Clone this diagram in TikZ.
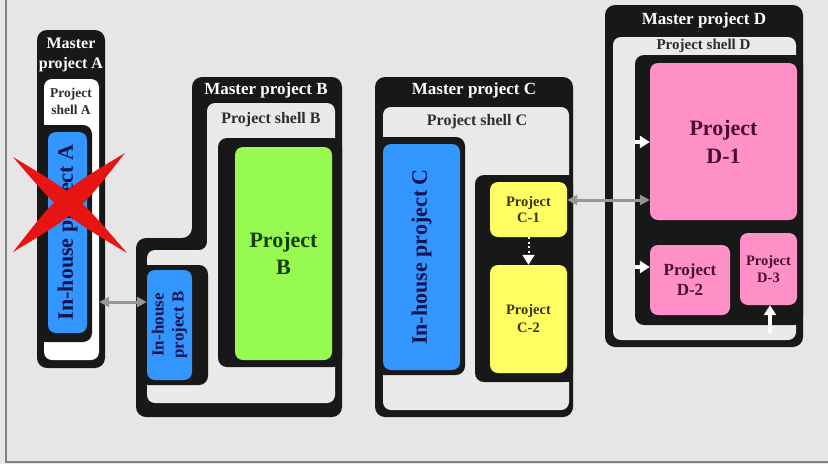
\documentclass[tikz,border=0pt]{standalone}
\usepackage{fontspec}
\setmainfont{Liberation Serif}
\usetikzlibrary{arrows.meta,calc}
\definecolor{bg}{RGB}{230,230,230}
\definecolor{shellc}{RGB}{234,234,234}
\definecolor{blk}{RGB}{24,24,24}
\definecolor{blu}{RGB}{51,150,255}
\definecolor{grn}{RGB}{150,250,80}
\definecolor{yel}{RGB}{255,255,100}
\definecolor{pnk}{RGB}{255,145,200}
\definecolor{navy}{RGB}{20,20,80}
\definecolor{dgreen}{RGB}{25,60,15}
\definecolor{olivetxt}{RGB}{55,55,15}
\definecolor{maroontxt}{RGB}{75,15,45}
\definecolor{shelltxt}{RGB}{45,45,45}
\definecolor{arrgray}{RGB}{150,150,150}
\definecolor{xred}{RGB}{232,20,20}
\tikzset{
  master/.style={fill=blk, rounded corners=10pt},
  shellbox/.style={fill=shellc, rounded corners=8pt},
  innerbox/.style={fill=blk, rounded corners=9pt},
  proj/.style={rounded corners=8pt, inner sep=0pt, align=center},
  mtitle/.style={text=white, align=center, font=\bfseries\fontsize{17}{20}\selectfont},
  stitle/.style={text=shelltxt, align=center, font=\bfseries\fontsize{16}{18}\selectfont},
  garrow/.style={arrgray, line width=3pt, {Triangle[length=10pt,width=10pt]}-{Triangle[length=10pt,width=10pt]}},
  warrow/.style={white, line width=3.5pt, -{Triangle[length=10pt,width=12pt]}},
}
\begin{document}
\begin{tikzpicture}[x=1pt,y=-1pt]
\useasboundingbox (0,0) rectangle (828,464);
\fill[bg] (0,0) rectangle (828,464);
\draw[gray, line width=1.5pt] (6,0) -- (6,462) -- (828,462);

% ---------- Master A ----------
\fill[master] (37,30) rectangle (105,368);
\node[fill=white, rounded corners=8pt, inner sep=0pt, minimum width=55pt, minimum height=281pt] (shellA) at (71.5,219.5) {};
\fill[innerbox] (37,125) rectangle (92,342);
\fill[blk] (37,125) rectangle (60,342);
\node[proj, fill=blu, minimum width=39pt, minimum height=201pt, text=navy,
  font=\bfseries\fontsize{22}{24}\selectfont] (inA) at (67.5,232.5) {\rotatebox{90}{In-house project A}};
\node[mtitle, font=\bfseries\fontsize{16}{20}\selectfont] (tA) at (71,55) {Master\\project A};
\node[stitle, font=\bfseries\fontsize{13.5}{17}\selectfont] (sA) at (71,101) {Project\\shell A};

% ---------- Master B ----------
\fill[master] (192,77) -- (342,77) -- (342,417) -- (136,417) -- (136,238) -- (192,238) -- cycle;
\fill[shellbox] (207,103) -- (335,103) -- (335,403) -- (147,403) -- (147,250) -- (207,250) -- cycle;
\fill[innerbox] (218,138) rectangle (342,367);
\fill[blk] (300,138) rectangle (342,367);
\fill[innerbox] (136,265) rectangle (208,385);
\fill[blk] (136,265) rectangle (160,385);
\node[proj, fill=grn, minimum width=97pt, minimum height=213pt, text=dgreen,
  font=\bfseries\fontsize{22}{27}\selectfont] (pB) at (283.5,253.5) {Project\\B};
\node[proj, fill=blu, minimum width=45pt, minimum height=110pt, text=navy,
  font=\bfseries\fontsize{17}{21}\selectfont] (inB) at (169.5,325) {\rotatebox{90}{\begin{tabular}{@{}c@{}}In-house\\[-1pt]project B\end{tabular}}};
\node[mtitle] (tB) at (266,90) {Master project B};
\node[stitle] (sB) at (271,120) {Project shell B};

% ---------- Master C ----------
\fill[master] (375,77) rectangle (573,417);
\fill[shellbox] (383,107) rectangle (569,410);
\fill[innerbox] (375,137) rectangle (465,375);
\fill[blk] (375,137) rectangle (400,375);
\fill[innerbox] (475,175) rectangle (573,382);
\fill[blk] (540,175) rectangle (573,382);
\node[proj, fill=blu, minimum width=77pt, minimum height=226pt, text=navy,
  font=\bfseries\fontsize{22}{24}\selectfont] (inC) at (421.5,257) {\rotatebox{90}{In-house project C}};
\node[proj, fill=yel, minimum width=77pt, minimum height=55pt, text=olivetxt,
  font=\bfseries\fontsize{14.5}{16.5}\selectfont] (C1) at (528.5,209.5) {Project\\C-1};
\node[proj, fill=yel, minimum width=77pt, minimum height=108pt, text=olivetxt,
  font=\bfseries\fontsize{14.5}{18}\selectfont] (C2) at (528.5,319) {Project\\C-2};
\node[mtitle] (tC) at (474,90) {Master project C};
\node[stitle] (sC) at (477,122) {Project shell C};

% ---------- Master D ----------
\fill[master] (605,5) rectangle (803,347);
\fill[shellbox] (613,37) rectangle (796,340);
\fill[innerbox] (635,55) rectangle (803,325);
\fill[blk] (700,55) rectangle (803,325);
\node[proj, fill=pnk, minimum width=147pt, minimum height=157pt, text=maroontxt,
  font=\bfseries\fontsize{22}{28}\selectfont] (D1) at (723.5,141.5) {Project\\D-1};
\node[proj, fill=pnk, minimum width=80pt, minimum height=70pt, text=maroontxt,
  font=\bfseries\fontsize{17}{20}\selectfont] (D2) at (690,280) {Project\\D-2};
\node[proj, fill=pnk, minimum width=57pt, minimum height=72pt, text=maroontxt,
  font=\bfseries\fontsize{14.5}{17}\selectfont] (D3) at (768.5,269) {Project\\D-3};
\node[mtitle] (tD) at (704,20) {Master project D};
\node[stitle, font=\bfseries\fontsize{15}{17}\selectfont] (sD) at (703.5,46) {Project shell D};

% ---------- connectors ----------
\coordinate (ab) at (120,302);
\draw[garrow] (shellA.east |- ab) -- (inB.west |- ab);
\coordinate (cd) at (600,200);
\draw[garrow] (C1.east |- cd) -- (D1.west |- cd);
\coordinate (w1) at (635,142);
\draw[warrow] (w1) -- (D1.west |- w1);
\coordinate (w2) at (635,267);
\draw[warrow] (w2) -- (D2.west |- w2);
\coordinate (w3) at (770,333);
\draw[warrow] (w3) -- (D3.south -| w3);
\draw[white, line width=2pt, dash pattern=on 2pt off 2.5pt,
  -{Triangle[length=10pt,width=12pt,fill=white]}] (C1.south) -- (C2.north);

% ---------- red cross ----------
\fill[xred] (13,157) .. controls (62,214) .. (127,253) .. controls (78,196) .. (13,157) -- cycle;
\fill[xred] (125,153) .. controls (60,192) .. (13,252) .. controls (78,213) .. (125,153) -- cycle;
\end{tikzpicture}
\end{document}
